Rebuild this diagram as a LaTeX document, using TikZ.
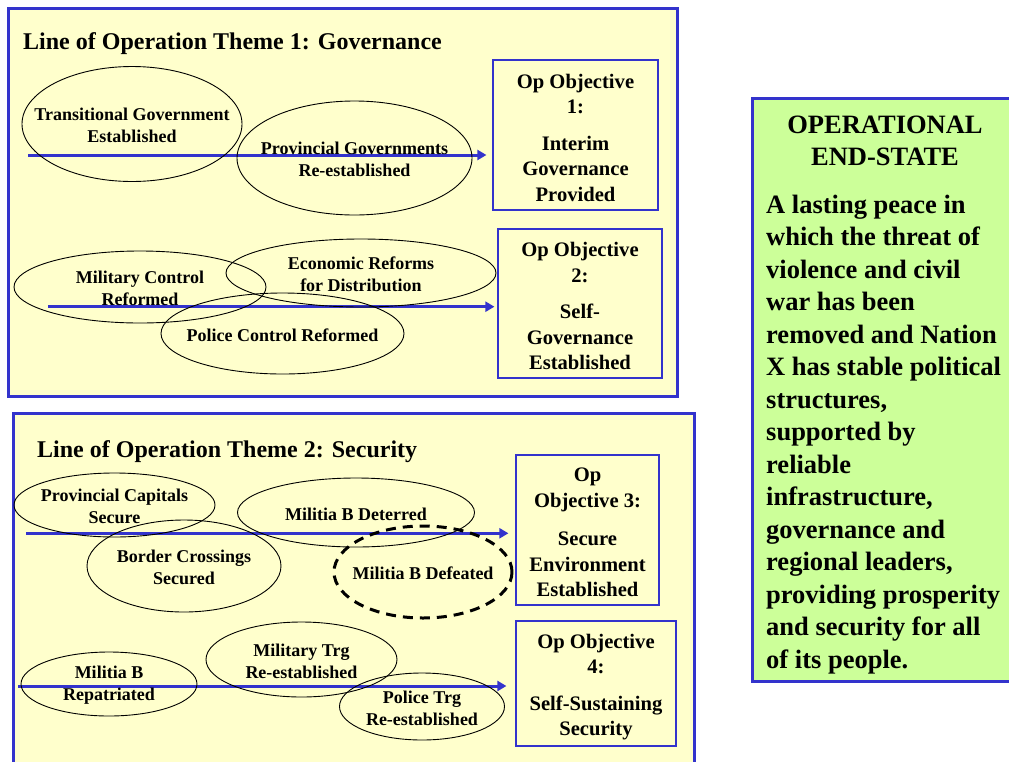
\documentclass[tikz,border=0pt]{standalone}
\usepackage{fontspec}
\setmainfont{Liberation Serif}
\usetikzlibrary{shapes.geometric,arrows.meta}
\definecolor{panelyellow}{RGB}{255,255,204}
\definecolor{panelblue}{RGB}{51,51,204}
\definecolor{endgreen}{RGB}{204,255,153}
\begin{document}
\begin{tikzpicture}[x=1pt,y=-1pt,
  panel/.style={draw=panelblue, line width=3pt, fill=panelyellow, inner sep=0pt},
  objbox/.style={draw=panelblue, line width=1.2pt, fill=panelyellow, inner sep=0pt},
  objtext/.style={align=center, font=\bfseries\fontsize{20.6}{25.5}\selectfont, inner sep=0pt, yshift=-2.5pt},
  ell/.style={draw, ellipse, inner sep=0pt, line width=0.9pt},
  elltext/.style={align=center, font=\bfseries\fontsize{18}{22}\selectfont, inner sep=0pt, yshift=-1.5pt},
  flow/.style={draw=panelblue, line width=3pt, -{Triangle[length=9pt,width=10pt]}},
  titletext/.style={anchor=west, inner sep=0pt, font=\bfseries\fontsize{24}{28}\selectfont, yshift=-3pt}]
\useasboundingbox (0,0) rectangle (1009,761);
\clip (0,0) rectangle (1009,761);
% panels
\node[panel, anchor=north west, minimum width=669pt, minimum height=388pt] (p1) at (7,7) {};
\node[panel, anchor=north west, minimum width=681pt, minimum height=380pt] (p2) at (12,412) {};
\node[panel, fill=endgreen, anchor=north west, minimum width=270pt, minimum height=583pt] (p3) at (751,97) {};
% titles
\node[titletext] (t1) at (23,41) {Line of Operation Theme 1: Governance};
\node[titletext] (t2) at (37,449) {Line of Operation Theme 2: Security};
% objective boxes
\node[objbox, minimum width=165pt, minimum height=150pt] (o1) at (575.5,135) {};
\node[objbox, minimum width=164pt, minimum height=149pt] (o2) at (580,303.5) {};
\node[objbox, minimum width=143pt, minimum height=150pt] (o3) at (587.5,530) {};
\node[objbox, minimum width=160pt, minimum height=125pt] (o4) at (596,683.5) {};
\node[objtext] (o1t) at (o1) {Op Objective\\1:\\[11pt]Interim\\Governance\\Provided};
\node[objtext] (o2t) at (o2) {Op Objective\\2:\\[11pt]Self-\\Governance\\Established};
\node[objtext] (o3t) at (o3) {Op\\Objective 3:\\[13pt]Secure\\Environment\\Established};
\node[objtext, yshift=-1pt] (o4t) at (o4) {Op Objective\\4:\\[11pt]Self-Sustaining\\Security};
% arrows
\coordinate (a1) at (28,155);
\coordinate (a2) at (48,306.7);
\coordinate (a3) at (26,533.3);
\coordinate (a4) at (18,686);
\draw[flow, shorten >=6pt] (a1) -- (a1 -| o1.west);
\draw[flow, shorten >=3pt] (a2) -- (a2 -| o2.west);
\draw[flow, shorten >=7pt] (a3) -- (a3 -| o3.west);
\draw[flow, shorten >=9pt] (a4) -- (a4 -| o4.west);
% ellipses theme 1
\node[ell, minimum width=220pt, minimum height=115pt] (tg) at (132,124) {};
\node[ell, minimum width=235pt, minimum height=114pt] (pg) at (354.5,158) {};
\node[ell, minimum width=252pt, minimum height=72pt] (mc) at (140,287) {};
\node[ell, minimum width=270pt, minimum height=68pt] (er) at (361,273) {};
\node[ell, minimum width=243pt, minimum height=81pt] (pc) at (282.5,333.5) {};
\node[elltext] (tgt) at (tg) {Transitional Government\\Established};
\node[elltext] (pgt) at (pg) {Provincial Governments\\Re-established};
\node[elltext] (mct) at (mc) {Military Control\\Reformed};
\node[elltext] (ert) at (er) {Economic Reforms\\for Distribution};
\node[elltext] (pct) at (pc) {Police Control Reformed};
% ellipses theme 2
\node[ell, minimum width=201pt, minimum height=64pt] (pcs) at (114.5,505) {};
\node[ell, minimum width=194pt, minimum height=92pt] (bc) at (184,566) {};
\node[ell, minimum width=237pt, minimum height=69pt] (md) at (356,512.5) {};
\node[ell, line width=3pt, dash pattern=on 10pt off 7pt, minimum width=178pt, minimum height=92pt] (mdf) at (423,572) {};
\node[ell, minimum width=176pt, minimum height=64pt] (mbr) at (109,684) {};
\node[ell, minimum width=191pt, minimum height=75pt] (mt) at (301.5,659.5) {};
\node[ell, minimum width=165pt, minimum height=67pt] (pt) at (422,706.5) {};
\node[elltext] (pcst) at (pcs) {Provincial Capitals\\Secure};
\node[elltext] (bct) at (bc) {Border Crossings\\Secured};
\node[elltext] (mdt) at (md) {Militia B Deterred};
\node[elltext] (mdft) at (mdf) {Militia B Defeated};
\node[elltext] (mbrt) at (mbr) {Militia B\\Repatriated};
\node[elltext] (mtt) at (mt) {Military Trg\\Re-established};
\node[elltext] (ptt) at (pt) {Police Trg\\Re-established};
% end state
\node[align=center, inner sep=0pt, font=\bfseries\fontsize{26.5}{32}\selectfont] (esh) at (885,140.5) {OPERATIONAL\\END-STATE};
\node[anchor=west, align=left, inner sep=0pt, font=\bfseries\fontsize{26.5}{32.5}\selectfont] (esb) at (766,434.5) {A lasting peace in\\which the threat of\\violence and civil\\war has been\\removed and Nation\\X has stable political\\structures,\\supported by\\reliable\\infrastructure,\\governance and\\regional leaders,\\providing prosperity\\and security for all\\of its people.};
\end{tikzpicture}
\end{document}
